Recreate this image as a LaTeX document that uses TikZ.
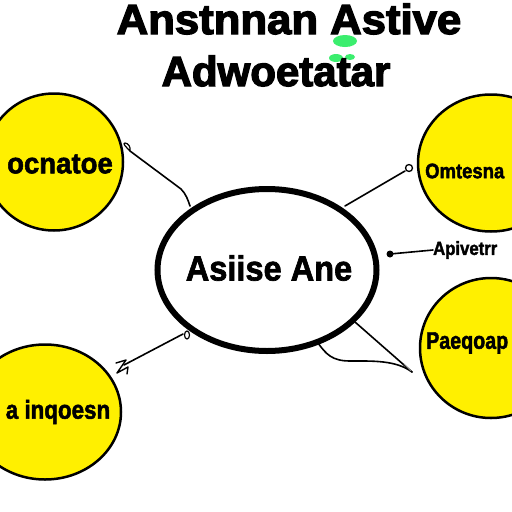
\documentclass[tikz,border=0pt]{standalone}
\usepackage{fontspec}
\setmainfont{Liberation Sans}
\newfontfamily\heavy[FakeBold=3]{Liberation Sans Bold}
\newfontfamily\heavyb[FakeBold=2]{Liberation Sans Bold}
\usetikzlibrary{shapes.geometric}
\definecolor{yel}{HTML}{FFF000}
\definecolor{grn}{HTML}{3BEE6E}
\tikzset{
  side/.style={ellipse, draw=black, line width=2.5pt, fill=yel, inner sep=0pt},
  conn/.style={draw=black, line width=1.6pt, line cap=round, line join=round},
  ttl/.style={font=\heavy\fontsize{42}{42}\selectfont, inner sep=0pt},
  lbl/.style={font=\heavyb, inner sep=0pt, anchor=west}
}
\begin{document}
\begin{tikzpicture}[x=1pt,y=-1pt]
\useasboundingbox (0,0) rectangle (512,512);
\clip (0,0) rectangle (512,512);
\fill[white] (0,0) rectangle (512,512);
% title
\fill[grn] (345,41) ellipse (12 and 6);
\fill[grn] (336,58) ellipse (7 and 4);
\fill[grn] (350,57) ellipse (5 and 3);
\node[ttl, xscale=1.04] (t1) at (289,19) {Anstnnan Astive};
\node[ttl] (t2) at (276,71) {Adwoetatar};
% ellipses
\node[side, minimum width=138pt, minimum height=137pt] (tl) at (54,162) {};
\node[font=\heavyb\fontsize{29}{29}\selectfont, inner sep=0pt, xscale=0.95] (tlt) at (60,164) {ocnatoe};
\node[side, minimum width=152pt, minimum height=135pt] (bl) at (45,412) {};
\node[font=\heavyb\fontsize{26}{26}\selectfont, inner sep=0pt, xscale=0.86] (blt) at (58,412) {a inqoesn};
\node[side, minimum width=146pt, minimum height=137pt] (tr) at (491,163) {};
\node[lbl, font=\heavyb\fontsize{21}{21}\selectfont, xscale=0.88] (trt) at (425,171) {Omtesna};
\node[side, minimum width=142pt, minimum height=140pt] (br) at (491,348) {};
\node[lbl, font=\heavyb\fontsize{24}{24}\selectfont, xscale=0.82] (brt) at (426,343) {Paeqoap};
% centre
\node[ellipse, draw=black, line width=6pt, fill=white, minimum width=219pt, minimum height=162pt, inner sep=0pt] (c) at (267,270) {};
\node[font=\heavyb\fontsize{35}{35}\selectfont, inner sep=0pt, xscale=0.93] (ct) at (269,268) {Asiise Ane};
% label
\node[lbl, font=\heavyb\fontsize{19}{19}\selectfont, xscale=0.88] (lab) at (433,250) {Apivetrr};
% connector coordinates
\coordinate (a1) at (130,151);
\coordinate (a2) at (181,189);
\coordinate (a3) at (190,206);
\coordinate (b1) at (345,206);
\coordinate (b2) at (405,171);
\coordinate (d1) at (390,254);
\coordinate (e1) at (183,334);
\coordinate (e2) at (124,365);
\coordinate (f1) at (355,322);
\coordinate (f2) at (318,343);
\coordinate (tip) at (412,372);
% top-left connector
\draw[conn] (a1) -- (a2) .. controls (186,194) and (188,200) .. (a3);
\draw[conn, line width=1.2pt] (a1) .. controls (126,147) and (122,143) .. (125,143) .. controls (128,143) and (131,147) .. (a1);
% top-right connector
\draw[conn] (b1) -- (b2);
\node[circle, draw=black, line width=1.3pt, minimum size=7pt, inner sep=0pt] (bc) at (409,168) {};
% right connector
\fill (d1) circle (3.5);
\draw[conn] (d1) -- (lab.west);
% bottom-left connector
\draw[conn] (e1) -- (e2);
\draw[line width=1.2pt] (187,335) ellipse (2.5 and 4);
\draw[line width=1.4pt, line cap=round, line join=round] (116,363) -- (126,360) -- (117,373) -- (128,367) -- (127,374);
% bottom-right tail
\draw[conn] (f1) -- (tip);
\draw[conn] (f2) .. controls (326,354) and (332,361) .. (350,361) .. controls (372,361) and (396,360) .. (tip);
\draw[gray, line width=1pt] (404,364) -- (411,371);
\end{tikzpicture}
\end{document}
